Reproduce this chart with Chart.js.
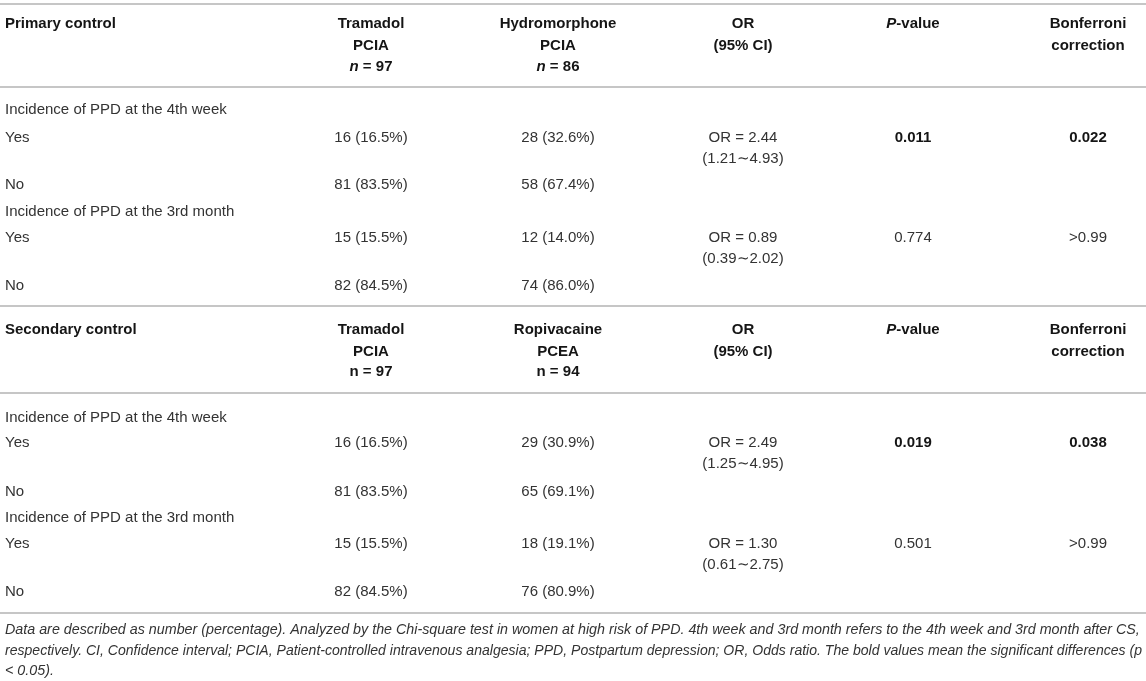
<!DOCTYPE html>
<html>
<head>
<meta charset="utf-8">
<script src="https://cdn.jsdelivr.net/npm/chart.js@4"></script>
<style>
  html, body { margin: 0; padding: 0; background: #fff; }
  #tableCanvas { display: block; }
</style>
</head>
<body>
<canvas id="tableCanvas" width="1146" height="681"></canvas>
<script>
// table content ('*' wraps italic parts)
var primaryHeader = ['Primary control'];
var secondaryHeader = ['Secondary control'];
var primaryGroups = [['Tramadol', 'PCIA', '*n* = 97'], ['Hydromorphone', 'PCIA', '*n* = 86']];
var secondaryGroups = [['Tramadol', 'PCIA', 'n = 97'], ['Ropivacaine', 'PCEA', 'n = 94']];
var statHeaders = [['OR', '(95% CI)'], ['*P*-value'], ['Bonferroni', 'correction']];

var outcomes = ['Incidence of PPD at the 4th week', 'Incidence of PPD at the 3rd month'];
var answers = ['Yes', 'No'];

var tramadolPrimary = ['16 (16.5%)', '81 (83.5%)', '15 (15.5%)', '82 (84.5%)'];
var hydromorphone = ['28 (32.6%)', '58 (67.4%)', '12 (14.0%)', '74 (86.0%)'];
var orPrimary = ['OR = 2.44', 'OR = 0.89'];
var ciPrimary = ['(1.21\u223C4.93)', '(0.39\u223C2.02)'];
var pPrimary = ['0.011', '0.774'];
var bonfPrimary = ['0.022', '>0.99'];

var tramadolSecondary = ['16 (16.5%)', '81 (83.5%)', '15 (15.5%)', '82 (84.5%)'];
var ropivacaine = ['29 (30.9%)', '65 (69.1%)', '18 (19.1%)', '76 (80.9%)'];
var orSecondary = ['OR = 2.49', 'OR = 1.30'];
var ciSecondary = ['(1.25\u223C4.95)', '(0.61\u223C2.75)'];
var pSecondary = ['0.019', '0.501'];
var bonfSecondary = ['0.038', '>0.99'];

var footnote = [
  'Data are described as number (percentage). Analyzed by the Chi-square test in women at high risk of PPD. 4th week and 3rd month refers to the 4th week and 3rd month after CS,',
  'respectively. CI, Confidence interval; PCIA, Patient-controlled intravenous analgesia; PPD, Postpartum depression; OR, Odds ratio. The bold values mean the significant differences (p',
  '< 0.05).'
];

// layout (scale units = page pixels)
var colX = [5, 371, 558, 743, 913, 1088];
var headerY = [[23, 45, 66], [329, 351, 371]];
var bodyY = [[109, 137, 184, 211, 237, 285], [417, 442, 491, 517, 543, 591]];
var ciGap = 21;
var ruleY = [4, 87, 306, 393, 613];
var footY = [629, 650, 670];
var footWidth = 1137;
var FONT = '"Liberation Sans", Arial, Helvetica, sans-serif';

var sections = [
  { head: primaryHeader, groups: primaryGroups, a: tramadolPrimary, b: hydromorphone, or: orPrimary, ci: ciPrimary, p: pPrimary, bonf: bonfPrimary },
  { head: secondaryHeader, groups: secondaryGroups, a: tramadolSecondary, b: ropivacaine, or: orSecondary, ci: ciSecondary, p: pSecondary, bonf: bonfSecondary }
];

// draws text whose cap-height centre sits on py
function drawRich(ctx, text, px, py, align, weight, size, color) {
  var parts = text.split('*');
  var fonts = parts.map(function (t, i) {
    return (i % 2 ? 'italic ' : '') + weight + ' ' + size + 'px ' + FONT;
  });
  var total = 0;
  parts.forEach(function (t, i) { ctx.font = fonts[i]; total += ctx.measureText(t).width; });
  var x = align === 'center' ? px - total / 2 : px;
  ctx.fillStyle = color;
  ctx.textAlign = 'left';
  ctx.textBaseline = 'alphabetic';
  parts.forEach(function (t, i) {
    ctx.font = fonts[i];
    ctx.fillText(t, x, py + size * 0.36);
    x += ctx.measureText(t).width;
  });
}

var tablePlugin = {
  id: 'tablePlugin',
  afterDraw: function (chart) {
    var ctx = chart.ctx;
    var sx = chart.scales.x, sy = chart.scales.y;
    var X = function (v) { return sx.getPixelForValue(v); };
    var Y = function (v) { return sy.getPixelForValue(v); };
    ctx.save();

    // horizontal rules
    ctx.strokeStyle = '#b3b3b3';
    ctx.lineWidth = 1.6;
    ruleY.forEach(function (r) {
      ctx.beginPath();
      ctx.moveTo(X(0), Y(r));
      ctx.lineTo(X(1146), Y(r));
      ctx.stroke();
    });

    var headColor = '#151515', bodyColor = '#333333';
    sections.forEach(function (s, si) {
      var hy = headerY[si];
      drawRich(ctx, s.head[0], X(colX[0]), Y(hy[0]), 'left', 'bold', 15, headColor);
      var cols = s.groups.concat(statHeaders);
      cols.forEach(function (lines, ci) {
        lines.forEach(function (t, li) {
          drawRich(ctx, t, X(colX[ci + 1]), Y(hy[li]), 'center', 'bold', 15, headColor);
        });
      });

      var by = bodyY[si];
      outcomes.forEach(function (o, oi) {
        var base = oi * 3;
        drawRich(ctx, o, X(colX[0]), Y(by[base]), 'left', 'normal', 15, bodyColor);
        answers.forEach(function (ans, ai) {
          var row = by[base + 1 + ai];
          var k = oi * 2 + ai;
          drawRich(ctx, ans, X(colX[0]), Y(row), 'left', 'normal', 15, bodyColor);
          drawRich(ctx, s.a[k], X(colX[1]), Y(row), 'center', 'normal', 15, bodyColor);
          drawRich(ctx, s.b[k], X(colX[2]), Y(row), 'center', 'normal', 15, bodyColor);
          if (ai === 0) {
            var sig = parseFloat(s.p[oi]) < 0.05;
            drawRich(ctx, s.or[oi], X(colX[3]), Y(row), 'center', 'normal', 15, bodyColor);
            drawRich(ctx, s.ci[oi], X(colX[3]), Y(row + ciGap), 'center', 'normal', 15, bodyColor);
            drawRich(ctx, s.p[oi], X(colX[4]), Y(row), 'center', sig ? 'bold' : 'normal', 15, sig ? headColor : bodyColor);
            drawRich(ctx, s.bonf[oi], X(colX[5]), Y(row), 'center', sig ? 'bold' : 'normal', 15, sig ? headColor : bodyColor);
          }
        });
      });
    });

    // footnote, squeezed to the table width where needed
    ctx.font = 'italic 14.3px ' + FONT;
    ctx.fillStyle = '#333333';
    ctx.textAlign = 'left';
    ctx.textBaseline = 'alphabetic';
    footnote.forEach(function (t, i) {
      ctx.fillText(t, X(colX[0]), Y(footY[i]) + 14.3 * 0.36, footWidth);
    });
    ctx.restore();
  }
};

var tableChart = new Chart(document.getElementById('tableCanvas'), {
  type: 'scatter',
  data: { datasets: [{ data: [] }] },
  options: {
    responsive: false,
    animation: false,
    layout: { padding: 0 },
    plugins: { legend: { display: false }, tooltip: { enabled: false } },
    scales: {
      x: { type: 'linear', min: 0, max: 1146, display: false },
      y: { type: 'linear', min: 0, max: 681, reverse: true, display: false }
    }
  },
  plugins: [tablePlugin]
});
</script>
</body>
</html>
